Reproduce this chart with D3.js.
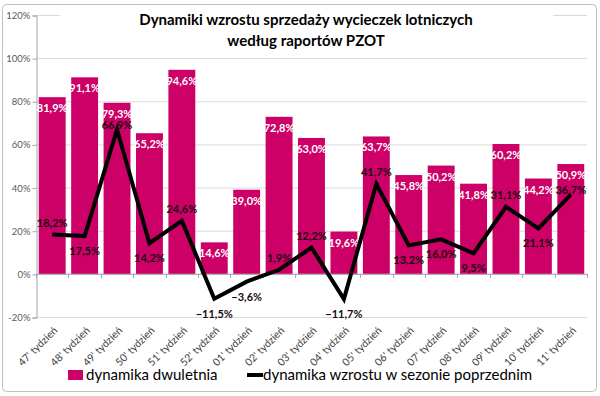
<!DOCTYPE html>
<html><head><meta charset="utf-8">
<script src="https://cdn.jsdelivr.net/npm/d3@7"></script>
<style>body{margin:0;background:#fff}svg{display:block;font-family:Lato,"Open Sans",sans-serif}</style>
</head><body>
<svg id="c" width="600" height="396"></svg>
<script>
const categories = ["47' tydzień","48' tydzień","49' tydzień","50' tydzień","51' tydzień","52' tydzień","01' tydzień","02' tydzień","03' tydzień","04' tydzień","05' tydzień","06' tydzień","07' tydzień","08' tydzień","09' tydzień","10' tydzień","11' tydzień"];
const dwuletnia = [81.9,91.1,79.3,65.2,94.6,14.6,39.0,72.8,63.0,19.6,63.7,45.8,50.2,41.8,60.2,44.2,50.9];
const poprzedni = [18.2,17.5,66.9,14.2,24.6,-11.5,-3.6,1.9,12.2,-11.7,41.7,13.2,16.0,9.5,31.1,21.1,36.7];
const lineLabelSide = ["up","down","near","down","up","down","down","up","up","down","up","down","down","down","up","down","near"];
const yTicks = [-20,0,20,40,60,80,100,120];
const seriesNames = ["dynamika dwuletnia","dynamika wzrostu w sezonie poprzednim"];
const titleLines = ["Dynamiki wzrostu sprzedaży wycieczek lotniczych","według raportów PZOT"];

const svg = d3.select("#c");
const barColor = "#cc0066";
const fmt = v => d3.format(".1f")(v).replace(".", ",") + "%";

svg.append("rect").attr("x",2.5).attr("y",4.5).attr("width",594).attr("height",387)
  .attr("rx",4).attr("fill","#fff").attr("stroke","#bfbfbf");

const x = d3.scaleBand().domain(categories).range([36,587]).paddingInner(0.17).paddingOuter(0.085);
const y = d3.scaleLinear().domain([-20,120]).range([317,15]);

// gridlines
svg.append("g").selectAll("line").data(yTicks).join("line")
  .attr("x1",36).attr("x2",587).attr("y1",d=>y(d)+0.5).attr("y2",d=>y(d)+0.5)
  .attr("stroke","#d9d9d9");

// y axis
const yAxis = svg.append("g").attr("transform","translate(36.5,0.5)")
  .call(d3.axisLeft(y).tickValues(yTicks).tickSize(4).tickPadding(2).tickFormat(d=>d+"%"));
yAxis.select(".domain").attr("stroke","#a6a6a6");
yAxis.selectAll(".tick line").attr("stroke","#a6a6a6");
yAxis.selectAll("text").attr("font-size",9.5).attr("fill","#595959").attr("font-family","Lato, sans-serif");

// bars
svg.append("g").selectAll("rect").data(dwuletnia).join("rect")
  .attr("x",(d,i)=>x(categories[i])).attr("width",x.bandwidth())
  .attr("y",d=>y(d)).attr("height",d=>y(0)-y(d)).attr("fill",barColor);

// x axis line & ticks at band boundaries
const xa = svg.append("g");
xa.append("line").attr("x1",36).attr("x2",587).attr("y1",y(0)+0.5).attr("y2",y(0)+0.5).attr("stroke","#a6a6a6");
const bounds = categories.map((c,i)=>x(c)-x.step()*x.paddingInner()/2).concat([587]);
xa.selectAll("line.t").data(bounds).join("line").attr("class","t")
  .attr("x1",d=>Math.round(d)+0.5).attr("x2",d=>Math.round(d)+0.5)
  .attr("y1",y(0)).attr("y2",y(0)+4).attr("stroke","#a6a6a6");

// category labels
svg.append("g").selectAll("text").data(categories).join("text")
  .attr("transform",d=>`translate(${x(d)+x.bandwidth()/2+6},${331}) rotate(-45)`)
  .attr("text-anchor","end").attr("font-size",10.5).attr("fill","#404040").text(d=>d);

// bar labels
svg.append("g").selectAll("text").data(dwuletnia).join("text")
  .attr("x",(d,i)=>x(categories[i])+x.bandwidth()/2).attr("y",d=>y(d)+15)
  .attr("text-anchor","middle").attr("font-size",11).attr("font-weight","bold")
  .attr("fill","#fff").text(d=>fmt(d));

// line
const cx = i => x(categories[i])+x.bandwidth()/2;
svg.append("path").datum(poprzedni)
  .attr("d",d3.line().x((d,i)=>cx(i)).y(d=>y(d)))
  .attr("fill","none").attr("stroke","#000").attr("stroke-width",4).attr("stroke-linejoin","miter");

const labelDy = {up:-8, near:-1, down:19};
svg.append("g").selectAll("text").data(poprzedni).join("text")
  .attr("x",(d,i)=>cx(i)).attr("y",(d,i)=>y(d)+labelDy[lineLabelSide[i]])
  .attr("text-anchor","middle").attr("font-size",11).attr("font-weight","bold")
  .attr("fill","#1a0a10").text(d=>fmt(d));

// title
svg.append("rect").attr("x",60).attr("y",8).attr("width",493).attr("height",44).attr("fill","#fff");
svg.append("g").selectAll("text").data(titleLines).join("text")
  .attr("x",306).attr("y",(d,i)=>25+i*21).attr("text-anchor","middle")
  .attr("font-size",15).attr("font-weight","bold").attr("fill","#000").text(d=>d);

// legend
const lg = svg.append("g");
lg.append("rect").attr("x",68).attr("y",370).attr("width",15).attr("height",10).attr("fill",barColor);
lg.append("text").attr("x",86).attr("y",380).attr("font-size",15).attr("fill","#000").text(seriesNames[0]);
lg.append("line").attr("x1",247).attr("x2",263).attr("y1",375).attr("y2",375).attr("stroke","#000").attr("stroke-width",4);
lg.append("text").attr("x",263).attr("y",380).attr("font-size",15).attr("fill","#000").text(seriesNames[1]);
</script>
</body></html>
